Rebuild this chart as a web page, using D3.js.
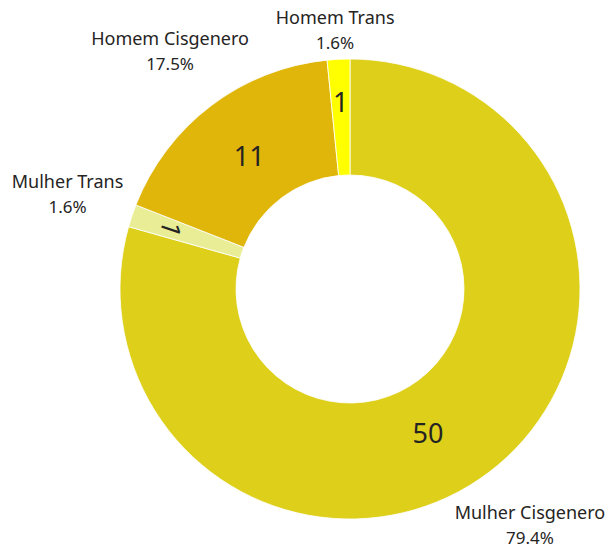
<!DOCTYPE html>
<html>
<head>
<meta charset="utf-8">
<script src="https://cdn.jsdelivr.net/npm/d3@7"></script>
<style>
  body { margin: 0; background: #fff; }
  text { font-family: "Noto Sans", sans-serif; fill: #252423; }
</style>
</head>
<body>
<svg id="chart" width="608" height="548"></svg>
<script>
// data
var categories = ["Mulher Cisgenero", "Mulher Trans", "Homem Cisgenero", "Homem Trans"];
var counts     = [50, 1, 11, 1];
var colours    = ["#DDCF1A", "#E9EE96", "#E0B60A", "#FFFF00"];

var svg = d3.select("#chart"),
    cx = 350, cy = 289,
    outerR = 230, innerR = 114;

var total = d3.sum(counts);
var rows = categories.map(function(c, i) { return {cat: c, n: counts[i], col: colours[i]}; });

var pie = d3.pie().value(d => d.n).sort(null);
var arc = d3.arc().innerRadius(innerR).outerRadius(outerR);
var arcs = pie(rows);

var g = svg.append("g").attr("transform", `translate(${cx},${cy})`);

g.selectAll("path.slice")
  .data(arcs)
  .enter().append("path")
    .attr("class", "slice")
    .attr("d", arc)
    .style("fill", d => d.data.col)
    .style("stroke", "#fff")
    .style("stroke-width", 0.8);

// value labels inside the ring
function midA(d) { return (d.startAngle + d.endAngle) / 2; }

g.selectAll("text.val")
  .data(arcs)
  .enter().append("text")
    .attr("class", "val")
    .attr("text-anchor", "middle")
    .attr("dominant-baseline", "central")
    .style("font-size", "27px")
    .attr("transform", function(d) {
      var a = midA(d);
      var small = d.data.n / total < 0.05;
      var r = small ? 188 : 167;
      var x = r * Math.sin(a), y = -r * Math.cos(a);
      if (d.data.n / total > 0.5) { x = 78; y = 143; } // big slice label sits lower
      var rot = 0;
      if (small && Math.abs(Math.sin(a)) > 0.5) rot = a * 180 / Math.PI - 180;
      return `translate(${x},${y}) rotate(${rot})`;
    })
    .text(d => d.data.n);

// category + percentage labels outside
var labR = 298;
var outer = g.selectAll("g.lab")
  .data(arcs)
  .enter().append("g")
    .attr("class", "lab")
    .attr("transform", function(d) {
      var a = midA(d);
      var x = labR * Math.sin(a), y = -labR * Math.cos(a);
      y = Math.max(y, 30 - cy);
      y = Math.min(y, 525 - cy);
      return `translate(${x},${y})`;
    });

outer.append("text")
  .attr("text-anchor", "middle")
  .attr("y", -6)
  .style("font-size", "18px")
  .text(d => d.data.cat);

outer.append("text")
  .attr("text-anchor", "middle")
  .attr("y", 19)
  .style("font-size", "17px")
  .text(d => d3.format(".1%")(d.data.n / total));
</script>
</body>
</html>
